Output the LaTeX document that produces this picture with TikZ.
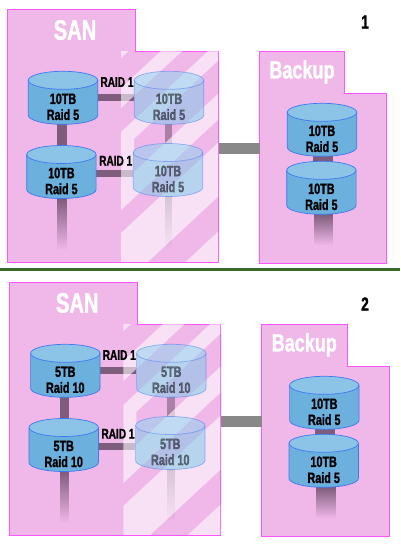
\documentclass[tikz,border=0pt]{standalone}
\usepackage{fontspec}
\usetikzlibrary{fadings}
\newfontfamily\imp[FakeStretch=0.72,FakeBold=1.2]{Liberation Sans}
\definecolor{panelc}{HTML}{F0B8E8}
\definecolor{borderc}{HTML}{FF55FF}
\definecolor{bodyc}{HTML}{6CB0DE}
\definecolor{topc}{HTML}{8CC4E8}
\definecolor{bodyl}{HTML}{78C8E8}
\definecolor{topl}{HTML}{88D4F0}
\definecolor{edgec}{HTML}{3C78F0}
\definecolor{connc}{HTML}{7E5C7C}
\definecolor{linkc}{HTML}{888888}
\definecolor{rulec}{HTML}{3A6A28}
\pgfdeclarelayer{under}\pgfdeclarelayer{stripes}
\pgfsetlayers{under,stripes,main}
\tikzfading[name=fadelow, top color=transparent!0, middle color=transparent!10, bottom color=transparent!100]
\tikzset{
  panelbox/.style={draw=borderc,line width=0.8pt,fill=panelc},
  cylanchor/.style={rectangle,inner sep=0pt,minimum width=69.4pt,minimum height=53pt},
  cyltext/.style={font=\imp\bfseries\fontsize{15}{16}\selectfont,align=center,text=black,inner sep=0pt},
  raidtext/.style={font=\imp\bfseries\fontsize{14}{16}\selectfont,text=black,inner sep=0pt},
  hugetext/.style={font=\imp\bfseries\fontsize{#1}{#1}\selectfont,text=white,inner sep=0pt},
  conn/.style={draw=connc,line width=#1},
  faded/.style={fill=connc,path fading=fadelow},
}
% name, left x, top y, opacity, text, body colour, top colour
\newcommand\cyl[7]{%
  \node[cylanchor] (#1) at (#2+34.7,#3+26.5) {};
  \begin{scope}[opacity=#4]
    \fill[#6] (#2,#3+9) -- (#2,#3+44) arc[start angle=180,end angle=360,x radius=34.7pt,y radius=9pt]
      -- (#2+69.4,#3+9) arc[start angle=0,end angle=-180,x radius=34.7pt,y radius=9pt] -- cycle;
    \fill[#7] (#2+34.7,#3+9) ellipse[x radius=34.7pt,y radius=9pt];
    \draw[edgec,line width=.7pt] (#2,#3+9) -- (#2,#3+44) arc[start angle=180,end angle=360,x radius=34.7pt,y radius=9pt] -- (#2+69.4,#3+9);
    \draw[edgec,line width=.7pt] (#2+34.7,#3+9) ellipse[x radius=34.7pt,y radius=9pt];
    \node[cyltext] (#1t) at (#2+34.7,#3+35.5) {#5};
  \end{scope}
}
\newcommand\band[2]{(121,#1) -- (121,#2) -- (221,#2-93) -- (221,#1-93) -- cycle}
\newcommand\scene[6]{% prefix dx dy san-top san-bottom number
  \begin{scope}[shift={(#2,#3)}]
    \begin{pgfonlayer}{under}
      \draw[panelbox] (7.5,9) -- (135,9) -- (135,51.3) -- (218.5,51.3) -- (218.5,262) -- (7.5,262) -- cycle;
      \draw[panelbox] (259.5,51) -- (344.7,51) -- (344.7,93.3) -- (386.7,93.3) -- (386.7,263.3) -- (259.5,263.3) -- cycle;
    \end{pgfonlayer}
    \begin{pgfonlayer}{stripes}
      \begin{scope}
        \clip (121,51.7) rectangle (218,261.5);
        \fill[white,opacity=.58] \band{47}{58} \band{88}{108} \band{132}{151} \band{184}{210} \band{233}{287} \band{322}{360}
           (121,132) -- (121,210) -- (134,198) -- (134,120) -- cycle;
      \end{scope}
    \end{pgfonlayer}
    \cyl{#1a}{28.3}{71.3}{1}{#4}{bodyc}{topc}
    \cyl{#1b}{26.7}{145.5}{1}{#5}{bodyc}{topc}
    \cyl{#1c}{134.3}{71.3}{.5}{#4}{bodyl}{topl}
    \cyl{#1d}{133.3}{143.5}{.5}{#5}{bodyl}{topl}
    \cyl{#1e}{287.3}{103.3}{1}{10TB\\Raid 5}{bodyc}{topc}
    \cyl{#1f}{286.7}{161.3}{1}{10TB\\Raid 5}{bodyc}{topc}
    \coordinate (#1sr) at (218.5,148.3);
    \coordinate (#1br) at (259.5,148.3);
    \begin{pgfonlayer}{under}
      \draw[conn=7.5pt] (#1a.east |- 0,97.5) -- (#1c.west |- 0,97.5);
      \draw[conn=7.5pt] (#1b.east |- 0,173.5) -- (#1d.west |- 0,173.5);
      \draw[conn=9.5pt] (62,124) -- (62,146);
      \draw[conn=7.5pt,opacity=.6] (168.5,124) -- (168.5,144);
      \draw[conn=20pt] (323,155) -- (323,162);
      \fill[faded] (57.3,198) rectangle (66.7,250);
      \fill[faded,opacity=.7] (164.7,196) rectangle (172.3,248);
      \fill[faded] (313.8,214) rectangle (333.2,245);
    \end{pgfonlayer}
    \draw[draw=linkc,line width=10.5pt] (#1sr) -- (#1br);
    \node[raidtext] (#1r1) at (117,82) {RAID 1};
    \node[raidtext] (#1r2) at (115.7,160.7) {RAID 1};
    \node[hugetext=28] (#1san) at (75,30) {SAN};
    \node[hugetext=25] (#1bk) at (302,72) {Backup};
    \node[font=\imp\bfseries\fontsize{19}{19}\selectfont,inner sep=0pt] (#1n) at (#6) {\ifnum#3=0 1\else 2\fi};
  \end{scope}
}
\begin{document}
\begin{tikzpicture}[x=1pt,y=-1pt]
  \useasboundingbox (0,0) rectangle (400,547);
  \scene{p}{0}{0}{10TB\\Raid 5}{10TB\\Raid 5}{365,22}
  \coordinate (rl) at (0,269.7);
  \coordinate (rr) at (400,269.7);
  \draw[rulec,line width=3pt] (rl) -- (rr);
  \scene{q}{2.3}{273}{5TB\\Raid 10}{5TB\\Raid 10}{362.7,31}
\end{tikzpicture}
\end{document}
